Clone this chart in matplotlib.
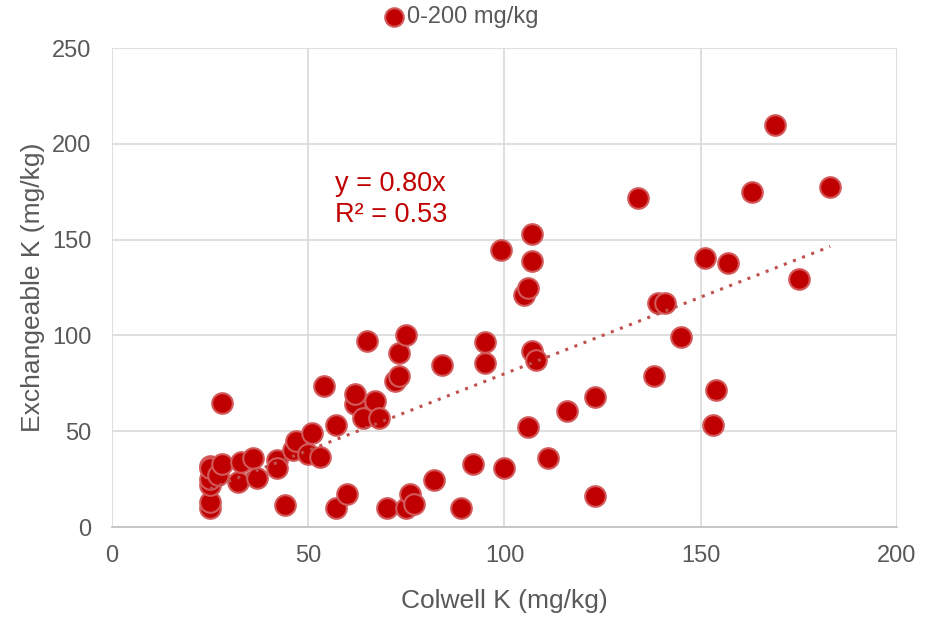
import matplotlib
matplotlib.use("Agg")
import matplotlib.pyplot as plt
import numpy as np

plt.rcParams['font.family'] = ['Liberation Sans', 'DejaVu Sans']

# Colwell K vs Exchangeable K (mg/kg)
colwell_k = [25, 25, 25, 25, 25, 25, 27, 28, 28, 32, 33, 36, 37, 42, 42, 44,
             46, 47, 50, 51, 53, 54, 57, 57, 60, 62, 62, 64, 65, 67, 68, 70,
             72, 73, 73, 75, 75, 76, 77, 82, 84, 89, 92, 95, 95, 99, 100, 105,
             106, 106, 107, 107, 107, 108, 111, 116, 123, 123, 134, 138, 139,
             141, 145, 151, 153, 154, 157, 163, 169, 175, 183]
exch_k = [10, 13, 22, 25, 32, 31, 27, 33, 64.5, 23.5, 34, 36, 25.5, 35, 31,
          11.5, 40, 45, 38, 49, 36.5, 73.5, 53, 10, 17, 64, 69.5, 57, 97, 66,
          57, 10, 76, 79, 91, 100, 10, 17, 12, 24.5, 84.5, 10, 33, 85.5, 96.5,
          144.5, 31, 121, 125, 52, 153, 139, 92, 87, 36, 60.5, 68, 16, 171.5,
          79, 117, 117, 99, 140.5, 53, 71.5, 138, 175, 210, 129.5, 177.5]

slope = 0.80
r_squared = 0.53
series_label = "0-200 mg/kg"

red = '#c00000'
edge = '#d25a5a'
grey_text = '#595959'

fig = plt.figure(figsize=(9.3, 6.18), dpi=100)
ax = fig.add_axes([0.1204, 0.1472, 0.8441, 0.7751])

ax.scatter(colwell_k, exch_k, s=220, color=red, edgecolors=edge,
           linewidths=1.5, zorder=3, label=series_label)

xs = np.array([min(colwell_k), max(colwell_k)])
ax.plot(xs, slope * xs, linestyle=(0, (1, 2.2)), color='#c0504d',
        linewidth=2.2, zorder=4)

ax.text(56.8, 171, f"y = {slope:.2f}x\nR² = {r_squared:.2f}", color=red,
        fontsize=19.5, va='center', ha='left', linespacing=1.22)

ax.set_xlim(0, 200)
ax.set_ylim(0, 250)
ax.set_xticks(range(0, 201, 50))
ax.set_yticks(range(0, 251, 50))
ax.grid(True, color='#d9d9d9', linewidth=1.2, zorder=0)
ax.set_axisbelow(True)
for side in ['top', 'right', 'left']:
    ax.spines[side].set_visible(False)
ax.spines['bottom'].set_color('#bfbfbf')
ax.spines['bottom'].set_linewidth(1.2)
ax.tick_params(length=0, labelsize=17, labelcolor=grey_text)
ax.tick_params(axis='x', pad=13)
ax.tick_params(axis='y', pad=15)

ax.set_xlabel("Colwell K (mg/kg)", fontsize=19, color=grey_text, labelpad=16)
ax.set_ylabel("Exchangeable K (mg/kg)", fontsize=19, color=grey_text, labelpad=5)

leg = fig.legend(loc='upper center', bbox_to_anchor=(0.4965, 1.025), frameon=False,
                 fontsize=17, handlelength=0.7, handletextpad=0.2,
                 markerscale=0.9, labelcolor=grey_text)

fig.savefig("out.png", dpi=100)
